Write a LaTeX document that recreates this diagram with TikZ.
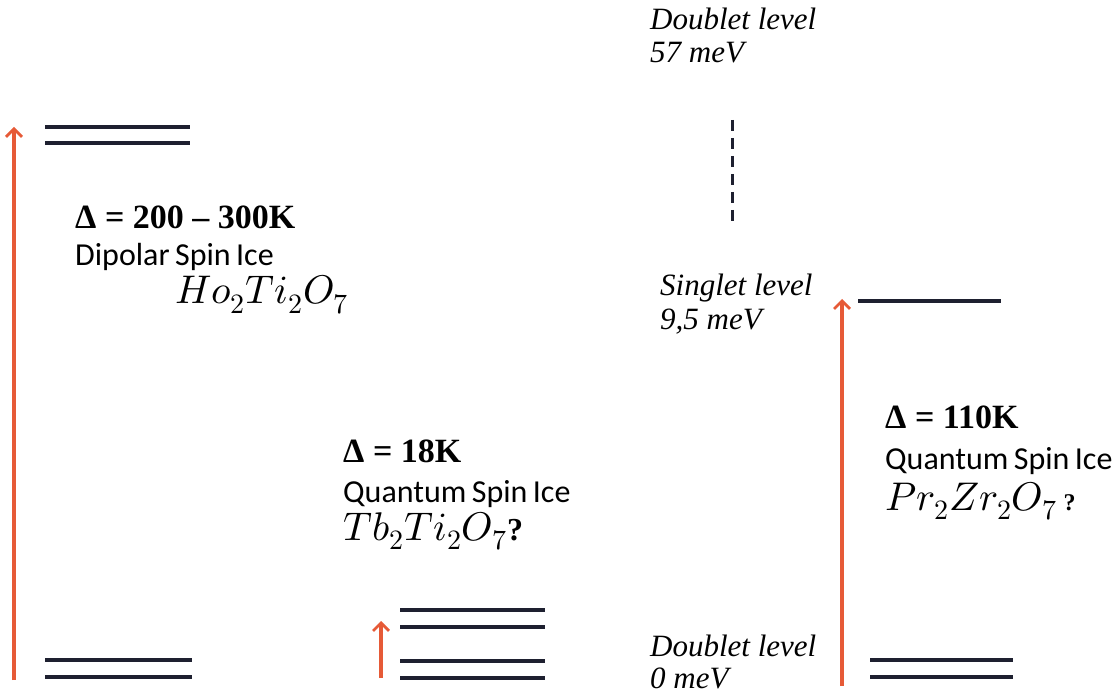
\documentclass[tikz,border=0pt]{standalone}
\usepackage{fontspec}
\usepackage{unicode-math}
\setmainfont{Liberation Serif}
\newfontfamily\lblfont{Carlito}
\setmathfont{Latin Modern Math}
\newcommand\tightwords{\spaceskip=0.17em plus 0.05em\relax}
\definecolor{arr}{RGB}{230,90,55}
\definecolor{lvl}{RGB}{30,32,48}
\usetikzlibrary{arrows.meta}
\begin{document}
\begin{tikzpicture}[x=1pt,y=-1pt,
  level/.style={draw=lvl,line width=3.4pt},
  exc/.style={draw=arr,line width=3.2pt,-{Straight Barb[length=8pt,width=16pt,line width=2.8pt]}},
  gap/.style={anchor=base west,inner sep=0pt,font=\fontsize{34}{38}\selectfont\bfseries},
  kind/.style={anchor=base west,inner sep=0pt,font=\fontsize{32}{36}\selectfont\lblfont\tightwords},
  chem/.style={anchor=base west,inner sep=0pt,font=\fontsize{40}{44}\selectfont},
  energy/.style={anchor=base west,inner sep=0pt,font=\fontsize{31}{34}\selectfont\itshape}]
\useasboundingbox (0,0) rectangle (1120,695);
% left: Ho2Ti2O7
\coordinate (a1s) at (14,680); \coordinate (a1e) at (14,127);
\draw[exc] (a1s) -- (a1e);
\coordinate (L1a) at (45,127); \coordinate (L1b) at (190,127);
\coordinate (L2a) at (45,143); \coordinate (L2b) at (190,143);
\coordinate (L3a) at (45,660); \coordinate (L3b) at (192,660);
\coordinate (L4a) at (45,677); \coordinate (L4b) at (192,677);
\draw[level] (L1a) -- (L1b); \draw[level] (L2a) -- (L2b);
\draw[level] (L3a) -- (L3b); \draw[level] (L4a) -- (L4b);
\node[gap] (g1) at (75,229) {Δ = 200 – 300K};
\node[kind] (k1) at (75,266) {Dipolar Spin Ice};
\node[chem] (c1) at (175,304) {$Ho_2Ti_2O_7$};
% middle: Tb2Ti2O7
\node[gap] (g2) at (343,462) {Δ = 18K};
\node[kind] (k2) at (343,502) {Quantum Spin Ice};
\node[chem] (c2) at (343,540) {$Tb_2Ti_2O_7$\textbf{\fontsize{32}{34}\selectfont ?}};
\coordinate (M1a) at (400,610); \coordinate (M1b) at (545,610);
\coordinate (M2a) at (400,627); \coordinate (M2b) at (545,627);
\coordinate (M3a) at (400,661); \coordinate (M3b) at (545,661);
\coordinate (M4a) at (400,678); \coordinate (M4b) at (545,678);
\draw[level] (M1a) -- (M1b); \draw[level] (M2a) -- (M2b);
\draw[level] (M3a) -- (M3b); \draw[level] (M4a) -- (M4b);
\coordinate (a2s) at (381,678); \coordinate (a2e) at (381,621);
\draw[exc] (a2s) -- (a2e);
% right: Pr2Zr2O7
\node[energy] (e1) at (650,30) {Doublet level};
\node[energy] (e2) at (650,63) {57 meV};
\coordinate (d1) at (732,120); \coordinate (d2) at (732,223);
\draw[draw=lvl,line width=3pt,dash pattern=on 11pt off 7pt] (d1) -- (d2);
\node[energy] (e3) at (660,296) {Singlet level};
\node[energy] (e4) at (660,330) {9,5 meV};
\node[energy] (e5) at (650,656) {Doublet level};
\node[energy] (e6) at (650,688) {0 meV};
\coordinate (a3s) at (842,686); \coordinate (a3e) at (842,299);
\draw[exc] (a3s) -- (a3e);
\coordinate (R1a) at (858,301); \coordinate (R1b) at (1001,301);
\coordinate (R2a) at (870,660); \coordinate (R2b) at (1013,660);
\coordinate (R3a) at (870,677); \coordinate (R3b) at (1013,677);
\draw[level] (R1a) -- (R1b); \draw[level] (R2a) -- (R2b); \draw[level] (R3a) -- (R3b);
\node[gap] (g3) at (885,428) {Δ = 110K};
\node[kind] (k3) at (885,469) {Quantum Spin Ice};
\node[chem] (c3) at (885,510) {$Pr_2Zr_2O_7$\,\textbf{\fontsize{24}{26}\selectfont ?}};
\end{tikzpicture}
\end{document}
